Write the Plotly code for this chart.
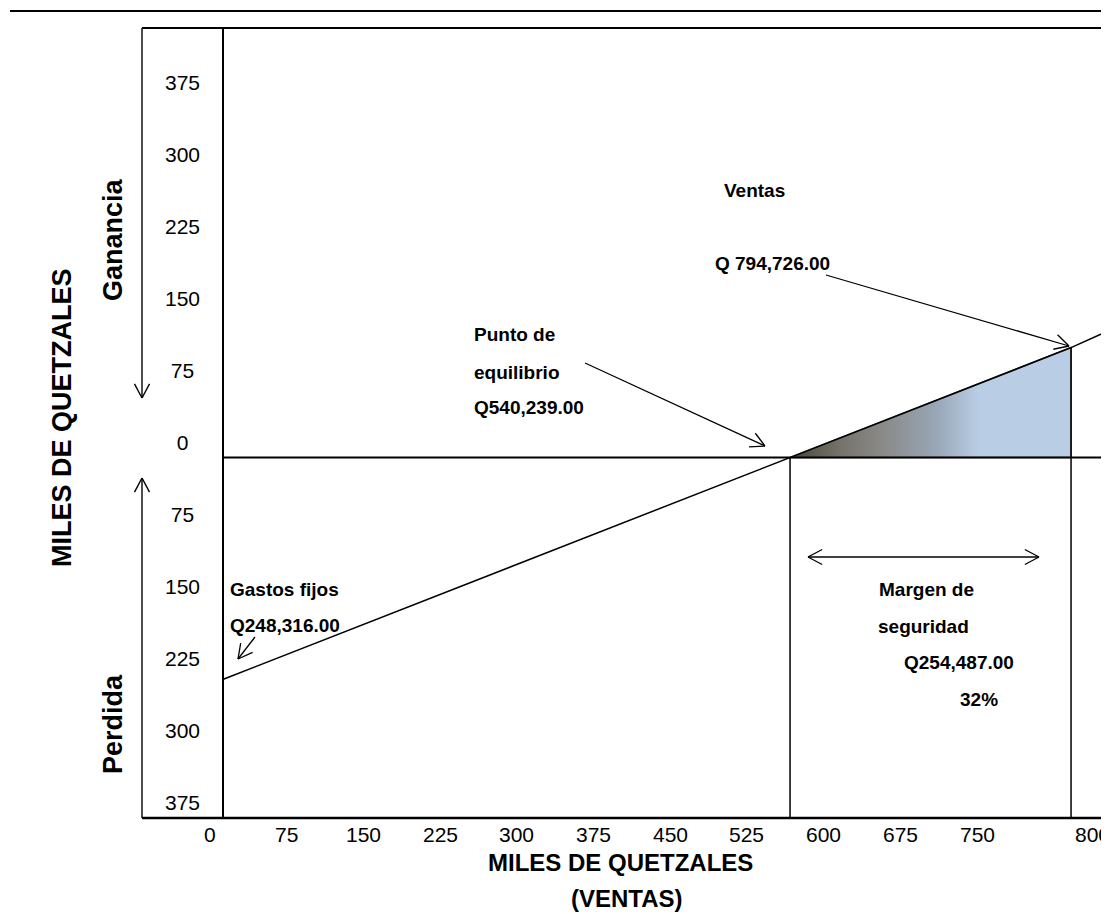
import math
import plotly.graph_objects as go

# ---------------- DATA (miles de quetzales) ----------------
gastos_fijos = 248.316
punto_equilibrio = 540.239
ventas = 794.726
margen_seguridad = 254.487
margen_pct = 32

# profit / loss line (x = ventas, y = ganancia(+) / perdida(-))
linea_x = [0, 540.239, 794.726, 829.0]
linea_y = [-248.316, 0, 117.0, 135.0]
ganancia_en_ventas = 117.0

x_tick_labels = ["0", "75", "150", "225", "300", "375", "450", "525", "600", "675", "750", "800"]
y_tick_labels = ["375", "300", "225", "150", "75", "0", "75", "150", "225", "300", "375"]

# ---------------- LAYOUT CONSTANTS ----------------
# the page body adds an 8px margin, so the figure is 8px smaller than the window
W, H = 1101, 906
PL, PT, PW, PH = 223, 28, 886, 790          # plot area in window pixels
X_RANGE = [26.7, 829.1]
Y_RANGE = [-383.5, 457.0]
# label axes (tick labels as placed in the original)
X2_RANGE = [12.71, 879.0]
x_tick_pos = [0, 75, 150, 225, 300, 375, 450, 525, 600, 675, 750, 863]
Y2_RANGE = [-390.6, 432.3]
y_tick_pos = [375, 300, 225, 150, 75, 0, -75, -150, -225, -300, -375]

FONT = "Liberation Sans, Arial, sans-serif"


def pad(lbl):
    # centre the labels in the label column (plotly right-aligns them)
    if len(lbl) == 1:
        return lbl + "\u2007"
    if len(lbl) == 2:
        return lbl + "\u2008"
    return lbl


def pp(px, py):
    return (px - PL) / PW, (PT + PH - py) / PH


shapes = []


def seg(x0, y0, x1, y1, width=1.5, color="black"):
    a0, b0 = pp(x0, y0)
    a1, b1 = pp(x1, y1)
    shapes.append(dict(type="line", xref="paper", yref="paper", x0=a0, y0=b0, x1=a1, y1=b1,
                       line=dict(color=color, width=width)))


def head(xt, yt, xf, yf, length=16, ang=28, width=1.3):
    d = math.hypot(xt - xf, yt - yf)
    ux, uy = (xf - xt) / d, (yf - yt) / d
    for s in (1, -1):
        a = math.radians(ang) * s
        hx = ux * math.cos(a) - uy * math.sin(a)
        hy = ux * math.sin(a) + uy * math.cos(a)
        seg(xt, yt, xt + hx * length, yt + hy * length, width)


def arrow(x0, y0, x1, y1, both=False, width=1.3):
    seg(x0, y0, x1, y1, width)
    head(x1, y1, x0, y0, width=width)
    if both:
        head(x0, y0, x1, y1, width=width)


# frame
seg(10, 11, 1109, 11, 2.2)
seg(142, 28, 1109, 28, 2)
seg(142, 818, 1109, 818, 2.6)
seg(223, 28, 223, 818, 2)
# left border arrows (Ganancia / Perdida)
arrow(142, 28, 142, 398, width=1.4)
arrow(142, 818, 142, 478, width=1.4)
# pointers
arrow(826, 275, 1069, 346)
arrow(585, 363, 765, 446)
arrow(255, 637, 238, 659)
arrow(808, 557, 1039, 557, both=True)

fig = go.Figure()

# safety-margin triangle with gradient
fig.add_trace(go.Scatter(
    x=[punto_equilibrio, ventas, ventas, punto_equilibrio],
    y=[0, ganancia_en_ventas, 0, 0],
    mode="lines", fill="toself",
    line=dict(color="#555555", width=1.5),
    fillgradient=dict(type="horizontal",
                      colorscale=[[0, "#4a4538"], [0.18, "#75736b"], [0.33, "#8a8a89"],
                                  [0.52, "#98a6b6"], [0.67, "#b9cde4"], [1, "#b9cde4"]]),
    hoverinfo="skip", showlegend=False))

# zero line
fig.add_trace(go.Scatter(x=X_RANGE, y=[0, 0], mode="lines",
                         line=dict(color="black", width=2), hoverinfo="skip", showlegend=False))
# vertical lines at break-even and sales
fig.add_trace(go.Scatter(x=[punto_equilibrio, punto_equilibrio], y=[0, Y_RANGE[0]], mode="lines",
                         line=dict(color="black", width=1.5), hoverinfo="skip", showlegend=False))
fig.add_trace(go.Scatter(x=[ventas, ventas], y=[ganancia_en_ventas, Y_RANGE[0]], mode="lines",
                         line=dict(color="black", width=1.5), hoverinfo="skip", showlegend=False))
# profit line
fig.add_trace(go.Scatter(x=linea_x, y=linea_y, mode="lines",
                         line=dict(color="black", width=1.5), hoverinfo="skip", showlegend=False))
# dummy trace for label axes
fig.add_trace(go.Scatter(x=[X2_RANGE[0]], y=[Y2_RANGE[0]], xaxis="x2", yaxis="y2", mode="markers",
                         marker=dict(opacity=0), hoverinfo="skip", showlegend=False))

annotations = []


def text(px, py, s, size=19, bold=True, anchor="left", angle=0):
    a, b = pp(px, py)
    annotations.append(dict(xref="paper", yref="paper", x=a, y=b, text=f"<b>{s}</b>" if bold else s,
                            showarrow=False, xanchor=anchor, yanchor="middle", textangle=angle,
                            font=dict(family=FONT, size=size, color="black")))


text(722, 190, "Ventas")
text(713, 263, f"Q {ventas*1000:,.2f}")
text(472, 335, "Punto de")
text(472, 372, "equilibrio")
text(472, 407, f"Q{punto_equilibrio*1000:,.2f}")
text(228, 589, "Gastos fijos")
text(228, 625, f"Q{gastos_fijos*1000:,.2f}")
text(877, 589, "Margen de")
text(876, 626, "seguridad")
text(902, 662, f"Q{margen_seguridad*1000:,.2f}")
text(958, 699, f"{margen_pct}%")

text(62, 418, "MILES DE QUETZALES", size=27, anchor="center", angle=-90)
text(113, 240, "Ganancia", size=27, anchor="center", angle=-90)
text(113, 724, "Perdida", size=27, anchor="center", angle=-90)
text(620, 862, "MILES DE QUETZALES", size=24, anchor="center")
text(627, 898, "(VENTAS)", size=24, anchor="center")

# x tick labels, positioned with the linear scale of the label axis x2
ytick_row = pp(0, 834)[1]
for pos, lbl in zip(x_tick_pos, x_tick_labels):
    xp = (pos - X2_RANGE[0]) / (X2_RANGE[1] - X2_RANGE[0])
    annotations.append(dict(xref="paper", yref="paper", x=xp, y=ytick_row, text=lbl, showarrow=False,
                            xanchor="center", yanchor="middle",
                            font=dict(family=FONT, size=21, color="black")))

hidden = dict(showgrid=False, zeroline=False, showline=False, showticklabels=False, ticks="",
              fixedrange=True)

fig.update_layout(
    width=W, height=H,
    margin=dict(l=PL - 8, r=W - (PL - 8) - PW, t=PT - 8, b=H - (PT - 8) - PH),
    paper_bgcolor="white", plot_bgcolor="white",
    showlegend=False,
    font=dict(family=FONT, color="black"),
    xaxis=dict(range=X_RANGE, **hidden),
    yaxis=dict(range=Y_RANGE, **hidden),
    xaxis2=dict(range=X2_RANGE, overlaying="x", side="bottom", **hidden),
    yaxis2=dict(range=Y2_RANGE, overlaying="y", side="left", showgrid=False, zeroline=False,
                showline=False, ticks="", tickvals=y_tick_pos, ticktext=[pad(t) for t in y_tick_labels],
                tickfont=dict(family=FONT, size=21, color="black"), ticklabelstandoff=22,
                fixedrange=True),
    shapes=shapes,
    annotations=annotations,
)

fig.write_html("out.html")
